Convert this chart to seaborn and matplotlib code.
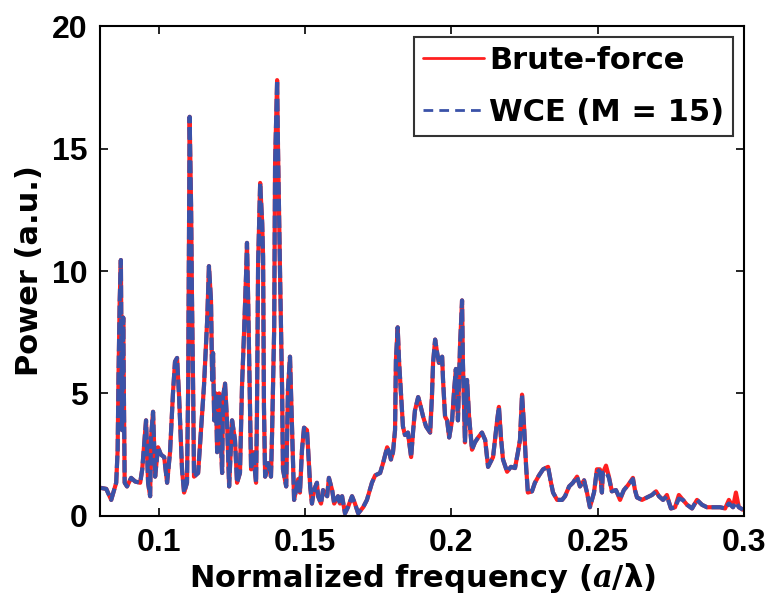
import numpy as np
import pandas as pd
import seaborn as sns
import matplotlib.pyplot as plt

# Dados (frequencia normalizada x potencia)
freq = [0.0803, 0.0821, 0.0838, 0.0848, 0.0855, 0.0860, 0.0863, 0.0867, 0.0871, 0.0875,
        0.0879, 0.0884, 0.0892, 0.0906, 0.0920, 0.0937, 0.0944, 0.0950, 0.0957, 0.0964,
        0.0971, 0.0974, 0.0981, 0.0988, 0.0998, 0.1008, 0.1019, 0.1029, 0.1039, 0.1049,
        0.1056, 0.1063, 0.1070, 0.1080, 0.1087, 0.1097, 0.1101, 0.1106, 0.1111, 0.1114,
        0.1118, 0.1121, 0.1135, 0.1149, 0.1155, 0.1166, 0.1172, 0.1179, 0.1183, 0.1186,
        0.1190, 0.1196, 0.1200, 0.1207, 0.1217, 0.1220, 0.1227, 0.1234, 0.1241, 0.1251,
        0.1261, 0.1268, 0.1278, 0.1285, 0.1292, 0.1299, 0.1302, 0.1306, 0.1313, 0.1316,
        0.1323, 0.1333, 0.1336, 0.1340, 0.1347, 0.1354, 0.1357, 0.1360, 0.1364, 0.1374,
        0.1384, 0.1388, 0.1395, 0.1398, 0.1405, 0.1408, 0.1415, 0.1422, 0.1425, 0.1436,
        0.1442, 0.1449, 0.1456, 0.1463, 0.1477, 0.1483, 0.1490, 0.1497, 0.1507, 0.1511,
        0.1518, 0.1524, 0.1531, 0.1541, 0.1545, 0.1555, 0.1562, 0.1576, 0.1582, 0.1593,
        0.1600, 0.1613, 0.1620, 0.1627, 0.1637, 0.1647, 0.1661, 0.1671, 0.1682, 0.1699,
        0.1712, 0.1729, 0.1740, 0.1757, 0.1767, 0.1781, 0.1788, 0.1794, 0.1801, 0.1808,
        0.1811, 0.1817, 0.1822, 0.1829, 0.1835, 0.1842, 0.1852, 0.1863, 0.1870, 0.1876,
        0.1887, 0.1893, 0.1904, 0.1914, 0.1928, 0.1934, 0.1938, 0.1945, 0.1952, 0.1958,
        0.1969, 0.1972, 0.1979, 0.1986, 0.1993, 0.2003, 0.2010, 0.2016, 0.2023, 0.2030,
        0.2037, 0.2040, 0.2047, 0.2054, 0.2061, 0.2071, 0.2081, 0.2092, 0.2105, 0.2116,
        0.2126, 0.2143, 0.2157, 0.2163, 0.2170, 0.2177, 0.2191, 0.2204, 0.2218, 0.2228,
        0.2235, 0.2242, 0.2249, 0.2256, 0.2262, 0.2276, 0.2286, 0.2300, 0.2314, 0.2331,
        0.2341, 0.2348, 0.2362, 0.2379, 0.2389, 0.2403, 0.2416, 0.2430, 0.2440, 0.2454,
        0.2464, 0.2474, 0.2488, 0.2498, 0.2508, 0.2515, 0.2518, 0.2529, 0.2539, 0.2549,
        0.2563, 0.2577, 0.2590, 0.2604, 0.2621, 0.2628, 0.2635, 0.2652, 0.2669, 0.2686,
        0.2700, 0.2710, 0.2724, 0.2737, 0.2751, 0.2765, 0.2778, 0.2792, 0.2806, 0.2823,
        0.2840, 0.2857, 0.2874, 0.2895, 0.2919, 0.2936, 0.2949, 0.2963, 0.2973, 0.2983,
        0.2997]

brute_force = [1.14, 1.10, 0.65, 1.06, 1.35, 2.7, 5.8, 8.8, 10.45, 3.5,
               8.1, 1.35, 1.2, 1.55, 1.4, 1.35, 1.9, 2.8, 3.9, 1.35,
               0.8, 3.2, 4.25, 1.6, 2.8, 2.5, 2.4, 1.35, 2.6, 5.0,
               6.3, 6.45, 4.85, 1.9, 0.95, 1.35, 5.3, 16.3, 12.6, 8.9,
               5.1, 1.6, 1.75, 4.2, 5.3, 8.0, 10.2, 8.8, 5.55, 6.65,
               3.9, 5.0, 2.6, 5.0, 1.75, 4.85, 5.4, 3.8, 1.2, 3.9,
               3.1, 1.35, 1.75, 5.3, 7.5, 9.9, 11.15, 8.8, 4.05, 1.9,
               2.6, 1.35, 4.05, 10.3, 13.6, 11.95, 10.6, 4.45, 1.6, 2.15,
               1.6, 3.5, 7.7, 14.4, 17.8, 15.05, 9.9, 5.15, 1.9, 1.2,
               5.15, 6.5, 3.5, 0.65, 1.5, 0.95, 2.7, 3.6, 3.5, 2.7,
               1.2, 0.5, 1.05, 1.35, 0.8, 0.5, 1.05, 0.8, 1.55, 1.05,
               0.5, 0.8, 0.5, 0.8, 0.1, 0.35, 0.8, 0.5, 0.1, 0.35,
               0.65, 1.35, 1.65, 1.75, 2.15, 2.8, 2.6, 2.3, 2.6, 3.5,
               6.35, 7.7, 6.25, 4.85, 3.65, 3.3, 3.4, 2.4, 3.5, 4.3,
               4.85, 4.6, 4.05, 3.65, 3.4, 4.85, 6.25, 7.2, 6.65, 6.25,
               6.5, 5.55, 4.05, 3.9, 3.2, 3.9, 5.15, 6.0, 3.9, 6.9,
               8.8, 6.25, 3.0, 5.55, 4.05, 2.7, 3.0, 3.2, 3.4, 3.1,
               2.0, 2.4, 3.9, 4.45, 3.2, 2.3, 1.8, 2.0, 1.95, 2.6,
               3.1, 4.95, 3.65, 2.0, 0.95, 1.0, 1.35, 1.65, 1.9, 2.0,
               1.35, 0.95, 0.65, 0.65, 0.8, 1.2, 1.35, 1.6, 1.2, 1.45,
               0.95, 0.35, 0.95, 1.9, 1.9, 0.95, 1.75, 2.05, 1.6, 1.0,
               1.05, 0.65, 1.05, 1.25, 1.55, 1.05, 0.75, 0.65, 0.75, 0.85,
               1.0, 0.8, 0.65, 0.85, 0.3, 0.35, 0.85, 0.65, 0.45, 0.3,
               0.65, 0.45, 0.35, 0.35, 0.35, 0.3, 0.65, 0.35, 0.95, 0.35,
               0.25]

wce = [1.14, 1.10, 0.65, 1.06, 1.35, 2.7, 5.8, 8.8, 10.45, 3.5,
       8.1, 1.35, 1.2, 1.55, 1.4, 1.35, 1.9, 2.8, 3.9, 1.35,
       0.8, 3.2, 4.25, 1.6, 2.8, 2.5, 2.4, 1.35, 2.6, 5.0,
       6.3, 6.45, 4.85, 1.9, 0.95, 1.35, 5.3, 16.3, 12.6, 8.9,
       5.1, 1.6, 1.75, 4.2, 5.3, 8.0, 10.2, 8.8, 5.55, 6.65,
       3.9, 5.0, 2.6, 5.0, 1.75, 4.85, 5.4, 3.8, 1.2, 3.9,
       3.1, 1.35, 1.75, 5.3, 7.5, 9.9, 11.15, 8.8, 4.05, 1.9,
       2.6, 1.35, 4.05, 10.3, 13.6, 11.95, 10.6, 4.45, 1.6, 2.15,
       1.6, 3.5, 7.7, 14.4, 17.8, 15.05, 9.9, 5.15, 1.9, 1.2,
       5.15, 6.5, 3.5, 0.65, 1.5, 0.95, 2.7, 3.6, 3.5, 2.7,
       1.2, 0.5, 1.05, 1.35, 0.8, 0.5, 1.05, 0.8, 1.55, 1.05,
       0.5, 0.8, 0.5, 0.8, 0.1, 0.35, 0.8, 0.5, 0.1, 0.35,
       0.65, 1.35, 1.65, 1.75, 2.15, 2.8, 2.6, 2.3, 2.6, 3.5,
       6.35, 7.7, 6.25, 4.85, 3.65, 3.3, 3.4, 2.4, 3.5, 4.3,
       4.85, 4.6, 4.05, 3.65, 3.4, 4.85, 6.25, 7.2, 6.65, 6.25,
       6.5, 5.55, 4.05, 3.9, 3.2, 3.9, 5.15, 6.0, 3.9, 6.9,
       8.8, 6.25, 3.0, 5.55, 4.05, 2.7, 3.0, 3.2, 3.4, 3.1,
       2.0, 2.4, 3.9, 4.45, 3.2, 2.3, 1.8, 2.0, 1.95, 2.6,
       3.1, 4.95, 3.65, 2.0, 0.95, 1.0, 1.35, 1.65, 1.9, 2.0,
       1.35, 0.95, 0.65, 0.65, 0.8, 1.2, 1.35, 1.6, 1.2, 1.45,
       0.95, 0.35, 0.95, 1.9, 1.8, 0.95, 1.75, 1.8, 1.55, 1.0,
       1.05, 0.7, 1.05, 1.25, 1.5, 1.05, 0.75, 0.65, 0.75, 0.85,
       1.0, 0.8, 0.65, 0.8, 0.3, 0.35, 0.7, 0.65, 0.45, 0.3,
       0.65, 0.45, 0.35, 0.35, 0.35, 0.3, 0.5, 0.35, 0.55, 0.35,
       0.25]

x_ticks = [0.1, 0.15, 0.2, 0.25, 0.3]
x_tick_labels = ["0.1", "0.15", "0.2", "0.25", "0.3"]
y_ticks = [0, 5, 10, 15, 20]

df = pd.DataFrame({"freq": freq, "brute": brute_force, "wce": wce})

sns.set_style("ticks")
plt.rcParams["font.family"] = ["Liberation Sans", "DejaVu Sans"]
plt.rcParams["font.weight"] = "bold"
plt.rcParams["text.color"] = "black"
plt.rcParams["axes.labelcolor"] = "black"
plt.rcParams["xtick.color"] = "black"
plt.rcParams["ytick.color"] = "black"
plt.rcParams["mathtext.fontset"] = "custom"
plt.rcParams["mathtext.it"] = "DejaVu Serif:italic:bold"
plt.rcParams["mathtext.rm"] = "DejaVu Serif:bold"

fig = plt.figure(figsize=(7.7, 5.97), dpi=100)
ax = fig.add_axes([0.130, 0.136, 0.836, 0.820])

sns.lineplot(data=df, x="freq", y="brute", color="#ff2020", linewidth=3.0,
             label="Brute-force", ax=ax, sort=False)
sns.lineplot(data=df, x="freq", y="wce", color="#3a52a8", linewidth=3.0,
             linestyle=(0, (3, 1)), label="WCE (M = 15)", ax=ax, sort=False)

ax.set_xlim(0.08, 0.3)
ax.set_ylim(0, 20)
ax.set_xticks(x_ticks)
ax.set_xticklabels(x_tick_labels)
ax.set_yticks(y_ticks)
ax.tick_params(direction="in", top=True, right=True, length=6, width=1.2,
               labelsize=23, pad=9)
for s in ax.spines.values():
    s.set_linewidth(1.5)
    s.set_color("black")

lab_font = {"family": ["DejaVu Sans"], "size": 22, "weight": "bold"}
ax.set_xlabel("Normalized frequency ($\\mathit{a}$/λ)", fontdict=lab_font,
              labelpad=2)
ax.set_ylabel("Power (a.u.)", fontdict=lab_font, labelpad=6)

leg = ax.legend(loc="upper right", prop=lab_font, frameon=True, fancybox=False,
                handlelength=2.0, handletextpad=0.15, borderpad=0.3,
                labelspacing=0.75, borderaxespad=0.35)
leg.get_frame().set_edgecolor("black")
leg.get_frame().set_linewidth(1.5)
leg_lines = leg.get_lines()
for line in leg_lines:
    line.set_linewidth(2)
leg_lines[1].set_dashes([3.5, 2.2])

plt.savefig("out.png", dpi=100)
plt.close()
